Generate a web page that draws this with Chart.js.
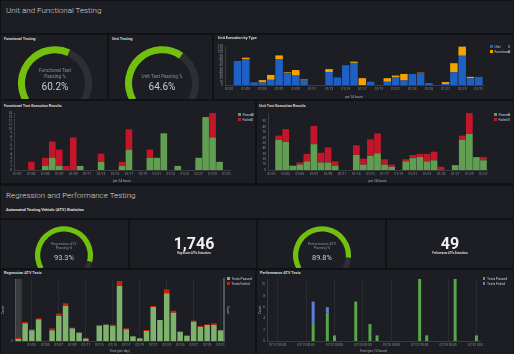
<!DOCTYPE html>
<html>
<head>
<meta charset="utf-8">
<title>Test Dashboard</title>
<script src="https://cdn.jsdelivr.net/npm/chart.js@4.4.1/dist/chart.umd.min.js"></script>
<style>
  html, body { margin: 0; padding: 0; }
  body { width: 514px; height: 354px; overflow: hidden; background: #111215; position: relative;
         font-family: Roboto, "Open Sans", sans-serif; color: #d8d9da; }
  .panel { position: absolute; background: #1c1e23; overflow: hidden; }
  .panel canvas, body > canvas { position: absolute; }
  .ptitle { position: absolute; font-size: 3.8px; font-weight: bold; white-space: nowrap; color: #d8d9da; line-height: 5px; }
  .row-title { position: absolute; left: 6px; font-size: 8px; font-weight: 300; white-space: nowrap; color: #d8d9da; line-height: 10px; }
  .sub-title { position: absolute; left: 6px; font-size: 4px; font-weight: bold; white-space: nowrap; color: #e0e1e2; line-height: 5px; }
  .legend { position: absolute; font-size: 3.4px; color: #c7d0d9; white-space: nowrap; line-height: 5px; }
  .legend i { display: inline-block; width: 2.5px; height: 2.5px; margin-right: 2px; vertical-align: middle; }
  .legend b { position: absolute; font-weight: normal; }
  .gtext { position: absolute; text-align: center; color: #8b8f96; white-space: nowrap; transform: translateX(-50%); }
  .gval { position: absolute; color: #c9ccd1; white-space: nowrap; transform: translateX(-50%); }
  .stat { position: absolute; font-weight: bold; color: #f0f0f0; white-space: nowrap; transform: translateX(-50%); }
  .statlbl { position: absolute; font-size: 2.6px; font-weight: bold; color: #d8d9da; white-space: nowrap; transform: translateX(-50%); }
</style>
</head>
<body>

<!-- row headers -->
<div class="panel" style="left:1px;top:1px;width:512px;height:32px"></div>
<div class="row-title" style="top:6px">Unit and Functional Testing</div>
<div class="panel" style="left:1px;top:186px;width:512px;height:32px"></div>
<div class="row-title" style="top:191px">Regression and Performance Testing</div>
<div class="sub-title" style="top:206.5px">Automated Testing Vehicle (ATV) Statistics</div>

<!-- gauges row 1 -->
<div class="panel" style="left:1px;top:35px;width:106px;height:64px"><canvas id="gFunc" width="74" height="56" style="left:17px;top:11px"></canvas></div>
<div class="panel" style="left:109px;top:35px;width:103px;height:64px"><canvas id="gUnit" width="74" height="56" style="left:16px;top:11px"></canvas></div>
<div class="ptitle" style="left:4px;top:35.5px">Functional Testing</div>
<div class="ptitle" style="left:112px;top:35.5px">Unit Testing</div>
<div class="gtext" style="left:55px;top:67.5px;font-size:4.7px;line-height:6px">Functional Test<br>Passing %</div>
<div class="gval" style="left:55px;top:80.5px;font-size:10px;line-height:12px" id="vFunc"></div>
<div class="gtext" style="left:162px;top:73.5px;font-size:4.7px;line-height:6px">Unit Test Passing %</div>
<div class="gval" style="left:162px;top:80.5px;font-size:10px;line-height:12px" id="vUnit"></div>

<!-- execution by type -->
<div class="panel" style="left:214px;top:35px;width:299px;height:64px"></div>
<div class="ptitle" style="left:218px;top:35px">Unit Execution by Type</div>
<canvas id="cType" width="273" height="57" style="left:214px;top:42px"></canvas>
<div class="legend" style="left:490px;top:44.5px;width:21px"><i style="background:#1f60c4"></i>Unit<b style="right:1px">0</b><br><i style="background:#f5a300"></i>Functional<b style="right:1px">0</b></div>

<!-- row 2 -->
<div class="panel" style="left:1px;top:101px;width:254px;height:82px"></div>
<div class="ptitle" style="left:4px;top:102.5px">Functional Test Execution Results</div>
<canvas id="cFunc" width="232" height="74" style="left:1px;top:109px"></canvas>
<div class="legend" style="left:238px;top:112.5px;width:16px"><i style="background:#629e51"></i>Passed<b style="right:1px">0</b><br><i style="background:#c4162a"></i>Failed<b style="right:1px">0</b></div>

<div class="panel" style="left:257px;top:101px;width:256px;height:82px"></div>
<div class="ptitle" style="left:259px;top:102.5px">Unit Test Execution Results</div>
<canvas id="cUnit" width="233" height="74" style="left:257px;top:109px"></canvas>
<div class="legend" style="left:494px;top:112.5px;width:17px"><i style="background:#629e51"></i>Passed<b style="right:1px">0</b><br><i style="background:#c4162a"></i>Failed<b style="right:1px">0</b></div>

<!-- row 3 -->
<div class="panel" style="left:1px;top:220px;width:127px;height:48px"><canvas id="gReg" width="58" height="44" style="left:34px;top:6px"></canvas></div>
<div class="panel" style="left:130px;top:220px;width:126px;height:48px"></div>
<div class="panel" style="left:258px;top:220px;width:127px;height:48px"><canvas id="gPerf" width="58" height="44" style="left:35px;top:6px"></canvas></div>
<div class="panel" style="left:387px;top:220px;width:126px;height:48px"></div>
<div class="gtext" style="left:64px;top:242px;font-size:3.6px;line-height:4.2px">Regression ATV<br>Passing %</div>
<div class="gval" style="left:64px;top:252.5px;font-size:7.5px;line-height:9px" id="vReg"></div>
<div class="gtext" style="left:322px;top:242px;font-size:3.6px;line-height:4.2px">Performance ATV<br>Passing %</div>
<div class="gval" style="left:322px;top:252.5px;font-size:7.5px;line-height:9px" id="vPerf"></div>
<div class="stat" style="left:194px;top:235px;font-size:16px;line-height:18px" id="sReg"></div>
<div class="statlbl" style="left:194px;top:251.5px">Regression ATVs Executions</div>
<div class="stat" style="left:450px;top:235px;font-size:16px;line-height:18px" id="sPerf"></div>
<div class="statlbl" style="left:450px;top:251.5px">Performance ATVs Executions</div>

<!-- row 4 -->
<div class="panel" style="left:1px;top:270px;width:254px;height:84px"></div>
<div class="ptitle" style="left:4px;top:270px">Regression ATV Tests</div>
<canvas id="cReg" width="229" height="77" style="left:1px;top:276px"></canvas>
<div class="legend" style="left:227px;top:276.5px"><i style="background:#7eb26d"></i>Tests Passed<br><i style="background:#d41f00"></i>Tests Failed</div>

<div class="panel" style="left:257px;top:270px;width:256px;height:84px"></div>
<div class="ptitle" style="left:260px;top:270px">Performance ATV Tests</div>
<canvas id="cPerf" width="225" height="77" style="left:258px;top:276px"></canvas>
<div class="legend" style="left:482.5px;top:276.5px"><i style="background:#56a64b"></i>Tests Passed<br><i style="background:#5b7fd8"></i>Tests Failed</div>

<script>
// ---------- data ----------
// daily buckets used by the unit / functional panels
const dayLabels = ['01/01','01/02','01/03','01/04','01/05','01/06','01/07','01/08','01/09','01/10',
  '01/11','01/12','01/13','01/14','01/15','01/16','01/17','01/18','01/19','01/20',
  '01/21','01/22','01/23','01/24','01/25','01/26','01/27','01/28','01/29','01/30','01/31'];

// Unit Execution by Type
const unitExec       = [0, 74, 80, 8, 8, 16, 80, 36, 29, 14, 0, 0, 40, 23, 61, 68, 0, 10, 0, 10, 23, 14, 34, 36, 6, 0, 3, 39, 90, 21, 25];
const functionalExec = [0, 0, 4, 0, 7, 15, 11, 3, 17, 3, 0, 0, 9, 0, 0, 4, 21, 0, 0, 11, 6, 20, 0, 2, 0, 0, 6, 28, 28, 4, 0];

// Functional Test Execution Results
const funcPassed = [0, 0, 0, 0, 1, 3, 1, 0, 0, 1, 0, 0, 2, 0, 0, 1, 5, 0, 0, 3, 3, 9, 0, 1, 0, 0, 3, 13, 8, 2, 0];
const funcFailed = [0, 0, 2, 0, 2, 4, 4, 1, 8, 0, 0, 0, 2, 0, 0, 1, 5, 0, 0, 2, 0, 0, 0, 0, 0, 0, 0, 0, 6, 0, 0];

// Unit Test Execution Results
const unitPassed = [0, 56, 52, 8, 10, 16, 48, 14, 14, 8, 0, 0, 28, 10, 26, 31, 10, 6, 0, 16, 22, 24, 16, 18, 0, 0, 9, 56, 67, 24, 18];
const unitFailed = [0, 8, 24, 0, 4, 14, 34, 18, 28, 8, 0, 0, 18, 11, 31, 37, 10, 4, 0, 4, 6, 6, 14, 16, 6, 0, 0, 8, 39, 0, 6];

// Regression ATV Tests (per day)
const regLabels = ['07/01','07/02','07/03','07/04','07/05','07/06','07/07','07/08','07/09','07/10',
  '07/11','07/12','07/13','07/14','07/15','07/16','07/17','07/18','07/19','07/20',
  '07/21','07/22','07/23','07/24','07/25','07/26','07/27','07/28','07/29','07/30','07/31'];
const regPassed = [180, 1560, 940, 1910, 0, 940, 2210, 3090, 1120, 740, 210, 0, 1350, 1440, 1320, 4850,
  1030, 410, 240, 880, 3000, 1850, 4210, 2500, 820, 470, 1710, 1240, 1410, 1410, 940];
const regFailed = [120, 120, 90, 90, 0, 180, 210, 240, 60, 0, 60, 0, 60, 0, 120, 440,
  90, 0, 0, 90, 90, 0, 350, 180, 0, 0, 90, 90, 60, 150, 0];

// Performance ATV Tests (per 12 hours)
const perfLabels = ['07/16 12:00','07/17 00:00','07/17 12:00','07/18 00:00','07/18 12:00','07/19 00:00',
  '07/19 12:00','07/20 00:00','07/20 12:00','07/21 00:00','07/21 12:00','07/22 00:00','07/22 12:00',
  '07/23 00:00','07/23 12:00','07/24 00:00','07/24 12:00','07/25 00:00','07/25 12:00','07/26 00:00',
  '07/26 12:00','07/27 00:00','07/27 12:00','07/28 00:00','07/28 12:00','07/29 00:00','07/29 12:00',
  '07/30 00:00','07/30 12:00','07/31 00:00'];
const perfPassed = [0, 0, 0, 0, 0, 0, 3, 0, 5, 1, 0, 0, 7, 0, 3, 1, 0, 0, 0, 0, 0, 11, 1, 0, 0, 0, 11, 0, 0, 1];
const perfFailed = [0, 0, 0, 0, 0, 0, 4, 0, 1, 0, 0, 0, 0, 0, 0, 0, 0, 0, 0, 0, 0, 0, 0, 0, 0, 0, 0, 0, 0, 0];

// Gauges and stats
const gaugeLabels = ['Passing', 'Rest'];
const functionalPassing = 60.2;
const unitPassing = 64.6;
const regressionPassing = 93.3;
const performancePassing = 89.8;
const regressionExecutions = 1746;
const performanceExecutions = 49;

// ---------- helpers ----------
Chart.defaults.font.family = 'Roboto, "Open Sans", sans-serif';
Chart.defaults.animation = false;

const tickColor = '#8e9096';
const axisColor = '#3a3c42';

function gauge(id, value, cutout) {
    new Chart(document.getElementById(id), {
        type: 'doughnut',
        data: {
            labels: gaugeLabels,
            datasets: [{
                data: [value, 100 - value],
                backgroundColor: ['#73bf10', '#2d2f35'],
                borderWidth: 0
            }]
        },
        options: {
            responsive: false,
            rotation: -120,
            circumference: 240,
            cutout: cutout,
            plugins: { legend: { display: false }, tooltip: { enabled: false } }
        }
    });
}

// show the label of every nth bucket, starting at `start`
function nth(labels, n, start) {
    return function (value, index) {
        return index >= start && (index - start) % n === 0 ? labels[index] : '';
    };
}

function stackedBars(id, cfg) {
    const xGrid = Object.assign({ display: false, drawTicks: false }, cfg.xGrid || {});
    const scales = {
        x: {
            stacked: true,
            grid: xGrid,
            border: { color: axisColor },
            ticks: {
                color: tickColor, font: { size: 3.2 }, padding: 2,
                autoSkip: false, maxRotation: 0, minRotation: 0,
                callback: nth(cfg.labels, cfg.every, cfg.start)
            },
            title: { display: true, text: cfg.xTitle, color: '#a9adb3', font: { size: 3.2 }, padding: 0 },
            afterFit: s => { s.height = cfg.xh; s.paddingLeft = 0; s.paddingRight = 0; }
        },
        y: {
            stacked: true,
            min: 0,
            max: cfg.max,
            grid: { display: false, drawTicks: false },
            border: { color: axisColor },
            ticks: {
                color: tickColor, font: { size: 3.2 }, padding: 2, autoSkip: false,
                stepSize: cfg.step,
                callback: v => (v % cfg.step === 0 ? (cfg.fmt ? cfg.fmt(v) : v) : '')
            },
            title: { display: !!cfg.yTitle, text: cfg.yTitle || '', color: '#a9adb3', font: { size: 3.2 }, padding: 0 },
            afterFit: s => { s.width = cfg.yw; s.paddingTop = 0; s.paddingBottom = 0; }
        }
    };
    if (cfg.rightAxis) {
        scales.y2 = {
            position: 'right',
            grid: { display: false, drawTicks: false },
            border: { color: '#55575d', width: 2 },
            ticks: { display: false },
            title: { display: true, text: 'Count', color: '#a9adb3', font: { size: 3.2 }, padding: 0 },
            afterFit: s => { s.width = 6; s.paddingTop = 0; s.paddingBottom = 0; }
        };
    }
    new Chart(document.getElementById(id), {
        type: 'bar',
        data: {
            labels: cfg.labels,
            datasets: cfg.series.map(s => ({
                label: s.label,
                data: s.data,
                backgroundColor: s.color,
                borderWidth: 0,
                barPercentage: cfg.barPct,
                categoryPercentage: 1
            }))
        },
        options: {
            responsive: false,
            layout: { padding: { top: cfg.padTop, right: cfg.padRight, left: 0, bottom: 0 } },
            plugins: { legend: { display: false }, tooltip: { enabled: false } },
            scales: scales
        },
        plugins: cfg.plugins || []
    });
}

// light band behind the first bucket (hover column in the original)
const firstBucketBand = {
    id: 'firstBucketBand',
    beforeDatasetsDraw(chart) {
        const x = chart.scales.x, a = chart.chartArea, ctx = chart.ctx;
        const half = (x.getPixelForValue(1) - x.getPixelForValue(0)) / 2;
        ctx.save();
        ctx.fillStyle = 'rgba(255,255,255,0.13)';
        ctx.fillRect(x.getPixelForValue(0) - half, a.top, half * 2, a.bottom - a.top);
        ctx.restore();
    }
};

// ---------- gauges + stats ----------
gauge('gFunc', functionalPassing, '81%');
gauge('gUnit', unitPassing, '81%');
gauge('gReg', regressionPassing, '82%');
gauge('gPerf', performancePassing, '82%');
document.getElementById('vFunc').textContent = functionalPassing.toFixed(1) + '%';
document.getElementById('vUnit').textContent = unitPassing.toFixed(1) + '%';
document.getElementById('vReg').textContent = regressionPassing.toFixed(1) + '%';
document.getElementById('vPerf').textContent = performancePassing.toFixed(1) + '%';
document.getElementById('sReg').textContent = regressionExecutions.toLocaleString('en-US');
document.getElementById('sPerf').textContent = performanceExecutions.toLocaleString('en-US');

// ---------- bar panels ----------
stackedBars('cType', {
    labels: dayLabels, every: 2, start: 0, xTitle: 'per 24 hours',
    series: [
        { label: 'Unit', data: unitExec, color: '#1f60c4' },
        { label: 'Functional', data: functionalExec, color: '#f5a300' }
    ],
    max: 120, step: 10, barPct: 0.9,
    yw: 11, xh: 14, padTop: 4, padRight: 4
});

stackedBars('cFunc', {
    labels: dayLabels, every: 2, start: 0, xTitle: 'per 24 hours',
    series: [
        { label: 'Passed', data: funcPassed, color: '#629e51' },
        { label: 'Failed', data: funcFailed, color: '#c4162a' }
    ],
    max: 14, step: 1, barPct: 0.95,
    yw: 13, xh: 13, padTop: 4, padRight: 3
});

stackedBars('cUnit', {
    labels: dayLabels, every: 2, start: 0, xTitle: 'per 24 hours',
    series: [
        { label: 'Passed', data: unitPassed, color: '#629e51' },
        { label: 'Failed', data: unitFailed, color: '#c4162a' }
    ],
    max: 106, step: 10, barPct: 0.95,
    yw: 11, xh: 13, padTop: 4, padRight: 3
});

stackedBars('cReg', {
    labels: regLabels, every: 2, start: 2, xTitle: 'Time (per day)', yTitle: 'Count',
    series: [
        { label: 'Tests Passed', data: regPassed, color: '#7eb26d' },
        { label: 'Tests Failed', data: regFailed, color: '#d41f00' }
    ],
    max: 5470, step: 1000, barPct: 0.82,
    fmt: v => v.toLocaleString('en-US'),
    xGrid: { display: true, offset: false, color: c => (c.index % 4 === 2 ? 'rgba(255,255,255,0.06)' : 'transparent') },
    yw: 14, xh: 12, padTop: 3, padRight: 0, rightAxis: true,
    plugins: [firstBucketBand]
});

stackedBars('cPerf', {
    labels: perfLabels, every: 4, start: 1, xTitle: 'Time (per 12 hours)', yTitle: 'Count',
    series: [
        { label: 'Tests Passed', data: perfPassed, color: '#56a64b' },
        { label: 'Tests Failed', data: perfFailed, color: '#5b7fd8' }
    ],
    max: 11, step: 2, barPct: 0.42,
    xGrid: { display: true, offset: false, color: c => (c.index % 4 === 1 ? 'rgba(255,255,255,0.06)' : 'transparent') },
    yw: 9, xh: 12, padTop: 3, padRight: 3
});
</script>
</body>
</html>
